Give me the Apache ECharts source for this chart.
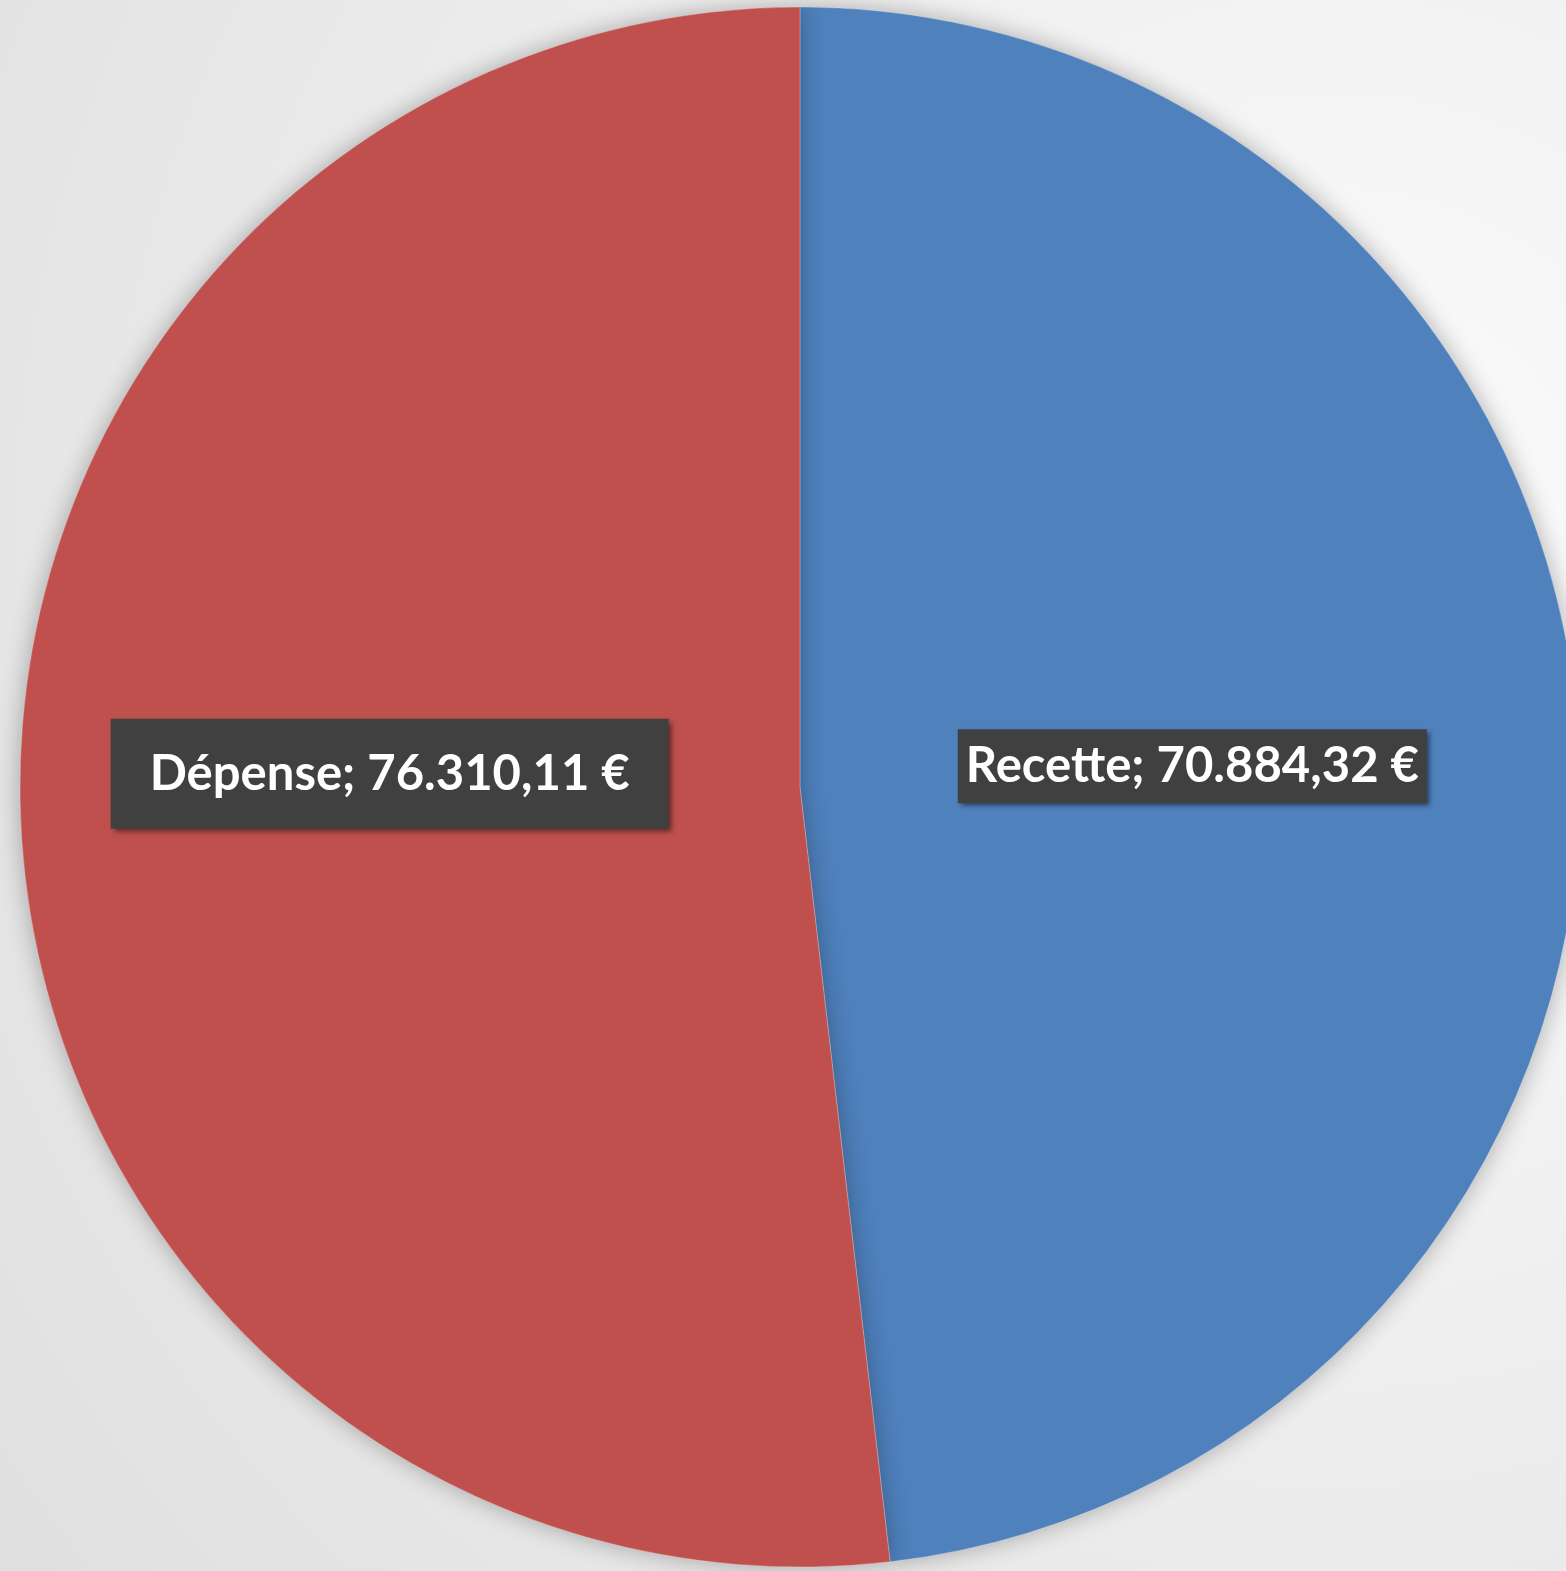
<!DOCTYPE html>
<html><head><meta charset="utf-8">
<script src="https://cdn.jsdelivr.net/npm/echarts@6/dist/echarts.min.js"></script>
<style>html,body{margin:0;padding:0;}#c{width:1566px;height:1571px;}</style>
</head><body><div id="c"></div>
<script>
const categories = ['Recette', 'Dépense'];
const values = [70884.32, 76310.11];
const colors = ['#4F81BD', '#C0504D'];
const labelTexts = ['Recette; 70.884,32 €', 'Dépense; 76.310,11 €'];

const chart = echarts.init(document.getElementById('c'));
const data = categories.map((c, i) => ({
  name: c,
  value: values[i],
  itemStyle: { color: colors[i] },
  label: i === 1
    ? { padding: [31, 39, 30, 39], offset: [-18, -36] }
    : { padding: [12, 8, 13, 8], offset: [0, 2] }
}));
chart.setOption({
  backgroundColor: {
    type: 'radial', x: 0.85, y: 0.35, r: 1.05,
    colorStops: [{ offset: 0, color: '#fcfcfc' }, { offset: 1, color: '#e0e0e0' }]
  },
  series: [{
    type: 'pie',
    center: [800, 787],
    radius: [0, 780],
    startAngle: 90,
    clockwise: true,
    silent: true,
    itemStyle: {
      borderColor: 'rgba(255,255,255,0.25)', borderWidth: 1,
      shadowBlur: 24, shadowColor: 'rgba(0,0,0,0.3)'
    },
    label: {
      show: true,
      position: 'inside',
      formatter: p => labelTexts[p.dataIndex],
      color: '#ffffff',
      fontFamily: 'Lato',
      fontWeight: 'bold',
      fontSize: 49,
      backgroundColor: '#404040',
      shadowColor: 'rgba(0,0,0,0.5)', shadowBlur: 5, shadowOffsetX: 3, shadowOffsetY: 3
    },
    labelLine: { show: false },
    data: data
  }]
});
</script></body></html>
